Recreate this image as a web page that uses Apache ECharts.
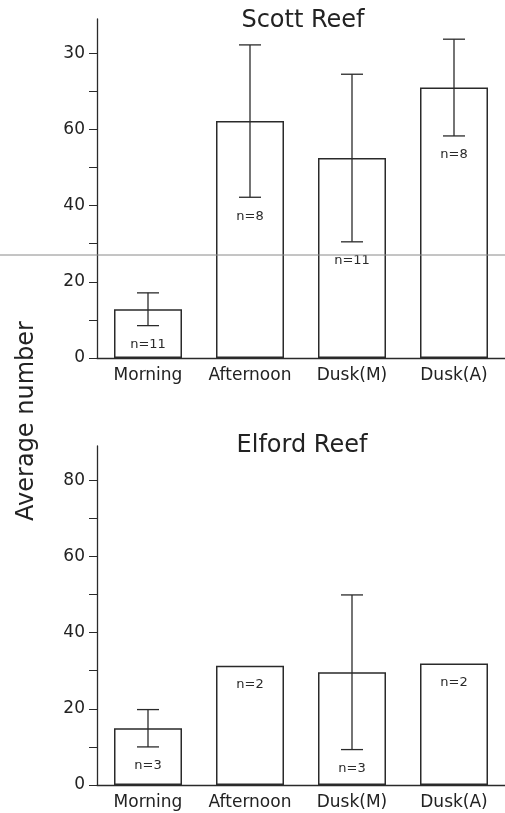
<!DOCTYPE html>
<html>
<head>
<meta charset="utf-8">
<script src="https://cdn.jsdelivr.net/npm/echarts@6/dist/echarts.min.js"></script>
<style>
  html, body { margin: 0; padding: 0; background: #fff; }
  #main { width: 505px; height: 813px; }
</style>
</head>
<body>
<div id="main"></div>
<script>
// categories and values
const categories = ['Morning', 'Afternoon', 'Dusk(M)', 'Dusk(A)'];

const scottMean = [12.8, 62.2, 52.5, 71.0];
const scottErr = [4.3, 20.0, 22.0, 12.7];
const scottN = [11, 8, 11, 8];

const elfordMean = [14.9, 31.3, 29.6, 31.9];
const elfordErr = [4.9, 0, 20.3, 0]; // 0 = no error bar drawn
const elfordN = [3, 2, 3, 2];

// y ticks every 10, labels every 20 (as printed)
const tickValues = [0, 10, 20, 30, 40, 50, 60, 70, 80];
const labelValues = [0, 20, 40, 60, 80];
const scottTicks = ['0', '20', '40', '60', '30'];
const elfordTicks = ['0', '20', '40', '60', '80'];

const ink = '#2a2a2a';
const font = '"DejaVu Sans", Verdana, sans-serif';

function errData(mean, err, n) {
  return mean.map((m, i) => [i, m, err[i], n[i]]);
}

// error bar + "n=" label under the lower whisker
function renderErr(params, api) {
  const i = api.value(0);
  const m = api.value(1);
  const e = api.value(2);
  const n = api.value(3);
  const top = api.coord([i, m + e]);
  const bot = api.coord([i, m - e]);
  const cap = 11;
  const kids = [];
  if (e > 0) {
    const st = { stroke: ink, lineWidth: 1.3 };
    kids.push({ type: 'line', shape: { x1: top[0], y1: top[1], x2: bot[0], y2: bot[1] }, style: st });
    kids.push({ type: 'line', shape: { x1: top[0] - cap, y1: top[1], x2: top[0] + cap, y2: top[1] }, style: st });
    kids.push({ type: 'line', shape: { x1: bot[0] - cap, y1: bot[1], x2: bot[0] + cap, y2: bot[1] }, style: st });
  }
  kids.push({
    type: 'text',
    x: bot[0],
    y: bot[1] + 19,
    style: { text: 'n=' + n, fill: ink, font: '13px ' + font, align: 'center', verticalAlign: 'middle' }
  });
  return { type: 'group', children: kids };
}

function yAxis(idx, ticks) {
  return {
    type: 'value', gridIndex: idx, min: 0, max: 89,
    axisLine: { show: true, lineStyle: { color: ink, width: 1.3 } },
    axisTick: { show: true, length: 8, customValues: tickValues, lineStyle: { color: ink } },
    axisLabel: {
      margin: 12, color: '#222', fontSize: 17, fontFamily: font,
      customValues: labelValues,
      formatter: v => ticks[labelValues.indexOf(v)]
    },
    splitLine: { show: false }
  };
}

function xAxis(idx) {
  return {
    type: 'category', gridIndex: idx, data: categories,
    axisLine: { lineStyle: { color: ink, width: 1.3 } },
    axisTick: { alignWithLabel: true, length: 6, lineStyle: { color: ink } },
    axisLabel: { interval: 0, hideOverlap: false, margin: 9, color: '#222', fontSize: 17, fontFamily: font }
  };
}

const barStyle = { color: '#fff', borderColor: ink, borderWidth: 1.5 };

const chart = echarts.init(document.getElementById('main'));
chart.setOption({
  animation: false,
  backgroundColor: '#fff',
  grid: [
    { left: 97, right: 0, top: 19, height: 339 },
    { left: 97, right: 0, top: 446, height: 339 }
  ],
  xAxis: [xAxis(0), xAxis(1)],
  yAxis: [yAxis(0, scottTicks), yAxis(1, elfordTicks)],
  graphic: [
    { type: 'text', x: 303, y: 21, style: { text: 'Scott Reef', font: '24px ' + font, fill: '#222', align: 'center', verticalAlign: 'middle' } },
    { type: 'text', x: 302, y: 446, style: { text: 'Elford Reef', font: '24px ' + font, fill: '#222', align: 'center', verticalAlign: 'middle' } },
    { type: 'text', x: 27, y: 421, rotation: Math.PI / 2, style: { text: 'Average number', font: '24px ' + font, fill: '#222', align: 'center', verticalAlign: 'middle' } },
    { type: 'line', shape: { x1: 0, y1: 255, x2: 505, y2: 255 }, style: { stroke: '#8a8a8a', lineWidth: 1 }, z: 100 }
  ],
  series: [
    { type: 'bar', xAxisIndex: 0, yAxisIndex: 0, data: scottMean, barWidth: 68, itemStyle: barStyle },
    { type: 'custom', xAxisIndex: 0, yAxisIndex: 0, data: errData(scottMean, scottErr, scottN), renderItem: renderErr, encode: { x: 0, y: 1 }, z: 5, clip: false },
    { type: 'bar', xAxisIndex: 1, yAxisIndex: 1, data: elfordMean, barWidth: 68, itemStyle: barStyle },
    { type: 'custom', xAxisIndex: 1, yAxisIndex: 1, data: errData(elfordMean, elfordErr, elfordN), renderItem: renderErr, encode: { x: 0, y: 1 }, z: 5, clip: false }
  ]
});
</script>
</body>
</html>
